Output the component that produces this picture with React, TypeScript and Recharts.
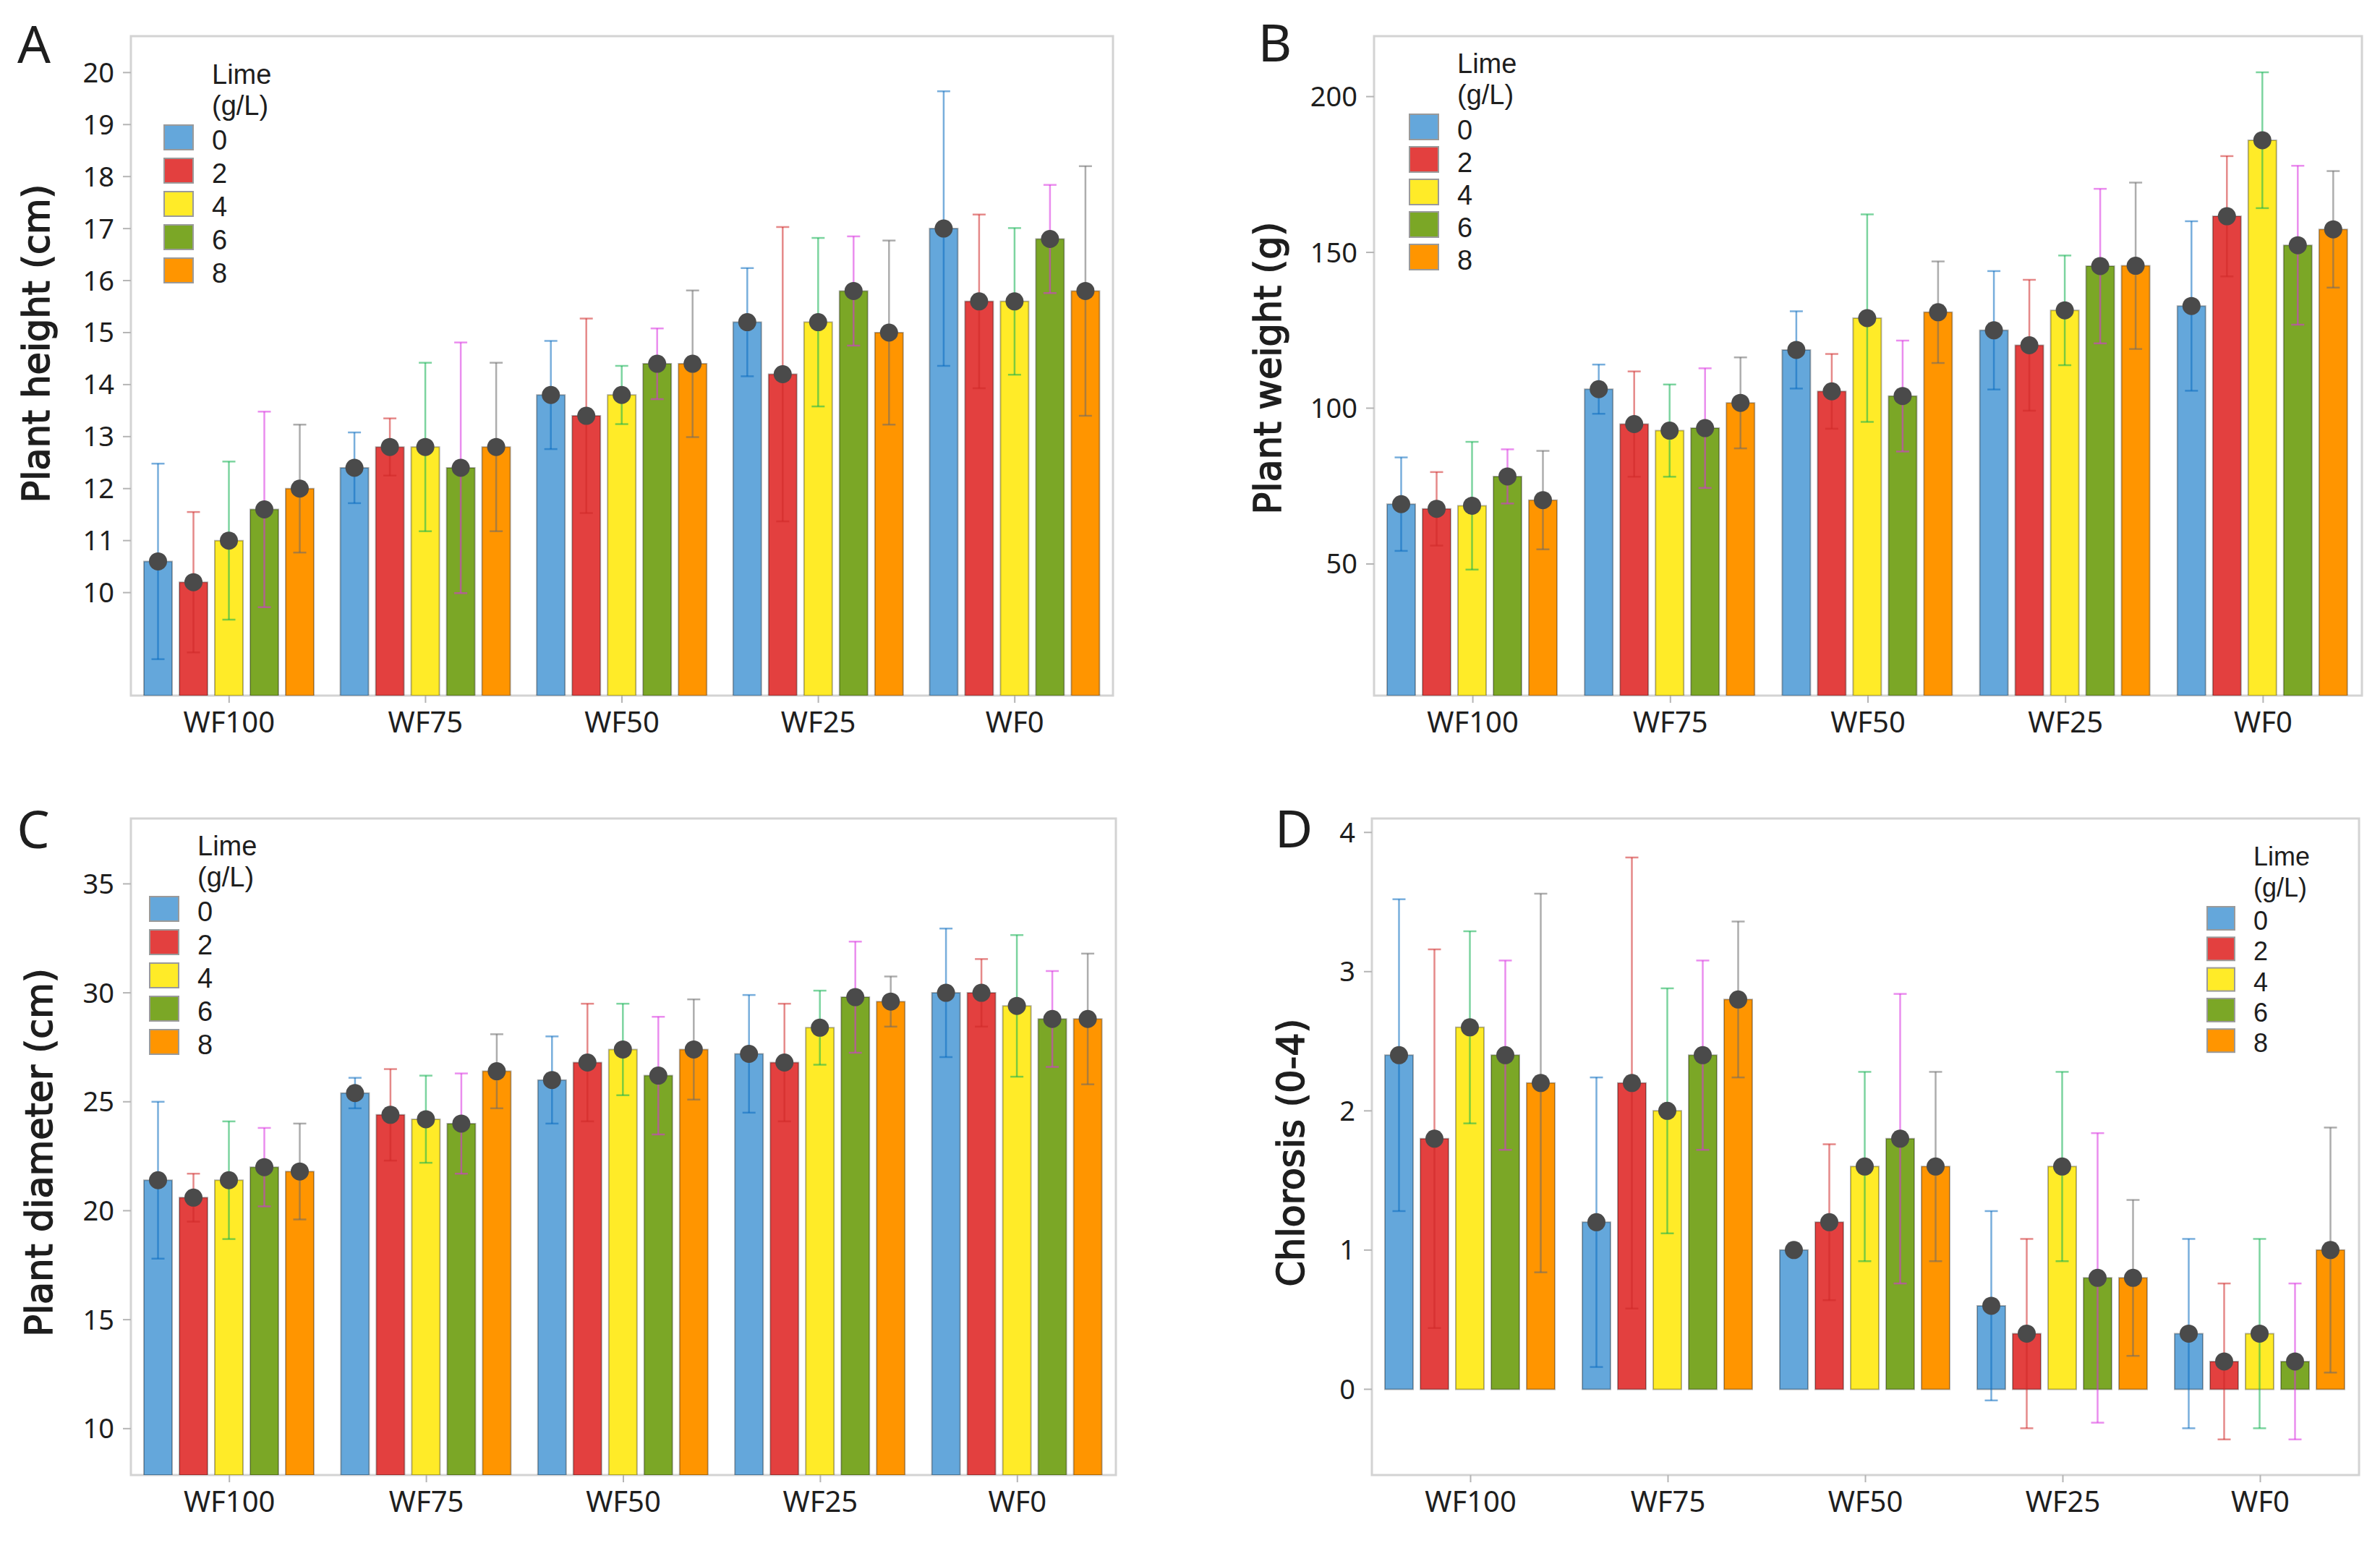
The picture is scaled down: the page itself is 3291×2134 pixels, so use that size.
import { BarChart, Bar, XAxis, YAxis, ErrorBar, LabelList } from "recharts";

const PAGE_W = 3291;
const PAGE_H = 2134;

const categories = ["WF100", "WF75", "WF50", "WF25", "WF0"];
const limeLevels = ["0", "2", "4", "6", "8"];
const barColors = ["#64a7db", "#e3403f", "#ffeb28", "#7ba726", "#ff9500"];
const errColors = ["#0a6cc0", "#d02828", "#10b050", "#d830e0", "#6a6a6a"];

// rows = water factor, columns = lime level (0, 2, 4, 6, 8 g/L)
const heightMean = [
  [10.6, 10.2, 11.0, 11.6, 12.0],
  [12.4, 12.8, 12.8, 12.4, 12.8],
  [13.8, 13.4, 13.8, 14.4, 14.4],
  [15.2, 14.2, 15.2, 15.8, 15.0],
  [17.0, 15.6, 15.6, 16.8, 15.8],
];
const heightErr = [
  [1.88, 1.35, 1.52, 1.88, 1.23],
  [0.68, 0.55, 1.62, 2.41, 1.62],
  [1.04, 1.87, 0.56, 0.68, 1.41],
  [1.04, 2.83, 1.62, 1.05, 1.77],
  [2.64, 1.67, 1.41, 1.04, 2.4],
];
const heightTicks = [10, 11, 12, 13, 14, 15, 16, 17, 18, 19, 20];

const weightMean = [
  [69.2, 67.7, 68.7, 78.1, 70.5],
  [106.1, 94.9, 92.8, 93.6, 101.7],
  [118.7, 105.4, 128.9, 103.9, 130.8],
  [125.0, 120.2, 131.4, 145.6, 145.7],
  [132.8, 161.6, 186.0, 152.3, 157.4],
];
const weightErr = [
  [15.0, 11.8, 20.5, 8.7, 15.8],
  [7.9, 16.9, 14.8, 19.2, 14.6],
  [12.4, 12.0, 33.3, 17.8, 16.3],
  [19.0, 21.0, 17.6, 24.8, 26.7],
  [27.2, 19.3, 21.8, 25.5, 18.7],
];
const weightTicks = [50, 100, 150, 200];

const diameterMean = [
  [21.4, 20.6, 21.4, 22.0, 21.8],
  [25.4, 24.4, 24.2, 24.0, 26.4],
  [26.0, 26.8, 27.4, 26.2, 27.4],
  [27.2, 26.8, 28.4, 29.8, 29.6],
  [30.0, 30.0, 29.4, 28.8, 28.8],
];
const diameterErr = [
  [3.6, 1.1, 2.7, 1.8, 2.2],
  [0.7, 2.1, 2.0, 2.3, 1.7],
  [2.0, 2.7, 2.1, 2.7, 2.3],
  [2.7, 2.7, 1.7, 2.55, 1.15],
  [2.95, 1.55, 3.25, 2.2, 3.0],
];
const diameterTicks = [10, 15, 20, 25, 30, 35];

const chlorosisMean = [
  [2.4, 1.8, 2.6, 2.4, 2.2],
  [1.2, 2.2, 2.0, 2.4, 2.8],
  [1.0, 1.2, 1.6, 1.8, 1.6],
  [0.6, 0.4, 1.6, 0.8, 0.8],
  [0.4, 0.2, 0.4, 0.2, 1.0],
];
const chlorosisErr = [
  [1.12, 1.36, 0.69, 0.68, 1.36],
  [1.04, 1.62, 0.88, 0.68, 0.56],
  [0, 0.56, 0.68, 1.04, 0.68],
  [0.68, 0.68, 0.68, 1.04, 0.56],
  [0.68, 0.56, 0.68, 0.56, 0.88],
];
const chlorosisTicks = [0, 1, 2, 3, 4];

const Y_W = 120;
const X_H = 70;
const TXT = "#1e1e1e";

type Box = { x0: number; y0: number; x1: number; y1: number };

function buildRows(means: number[][], errs: number[][]) {
  return categories.map((name, i) => {
    const row: Record<string, string | number> = { name };
    limeLevels.forEach((l, j) => {
      row["m" + l] = means[i][j];
      row["e" + l] = errs[i][j];
    });
    return row;
  });
}

const renderDot = (p: any) => {
  const vb = p.viewBox ?? p;
  const x = vb.x as number;
  const w = vb.width as number;
  const y = vb.height < 0 ? vb.y + vb.height : vb.y;
  return <circle cx={x + w / 2} cy={y} r={12.5} fill="#4a4a4a" />;
};

function Panel({ box, domain, ticks, means, errs }: {
  box: Box; domain: [number, number]; ticks: number[]; means: number[][]; errs: number[][];
}) {
  const rows = buildRows(means, errs);
  return (
    <div style={{ position: "absolute", left: 0, top: 0 }}>
      <BarChart
        width={PAGE_W}
        height={PAGE_H}
        data={rows}
        margin={{ top: box.y0, left: box.x0 - Y_W, right: PAGE_W - box.x1, bottom: PAGE_H - box.y1 - X_H }}
        barCategoryGap={18}
        barGap={10}
      >
        <XAxis
          dataKey="name"
          height={X_H}
          interval={0}
          axisLine={false}
          tickSize={10}
          tickMargin={13}
          tickLine={{ stroke: "#b5b5b5", strokeWidth: 2 }}
          tick={{ fontSize: 40, fill: TXT, fontFamily: "Noto Sans" }}
        />
        <YAxis
          type="number"
          width={Y_W}
          domain={domain}
          allowDataOverflow
          ticks={ticks}
          axisLine={false}
          tickSize={11}
          tickMargin={12}
          tickLine={{ stroke: "#b5b5b5", strokeWidth: 2 }}
          tick={{ fontSize: 38, fill: TXT, fontFamily: "Noto Sans" }}
        />
        {limeLevels.map((l, j) => (
          <Bar
            key={l}
            dataKey={"m" + l}
            fill={barColors[j]}
            stroke="rgba(0,0,0,0.3)"
            strokeWidth={2}
            isAnimationActive={false}
          >
            <ErrorBar
              dataKey={"e" + l}
              width={9}
              stroke={errColors[j]}
              strokeWidth={2.5}
              strokeOpacity={0.55}
              isAnimationActive={false}
            />
            <LabelList dataKey={"m" + l} content={renderDot} />
          </Bar>
        ))}
      </BarChart>
    </div>
  );
}

function LegendBlock({ x, y, sq, h, step, fs }: { x: number; y: number; sq: number; h: number; step: number; fs: number }) {
  // x = left of the squares, y = top of first square
  const tx = x + sq + 26;
  return (
    <g>
      {limeLevels.map((l, j) => (
        <rect key={l} x={x} y={y + j * step} width={sq} height={h} fill={barColors[j]} stroke="#9a9a9a" strokeWidth={2} />
      ))}
      <text fontFamily="Liberation Sans" fontSize={fs} fill={TXT}>
        <tspan x={tx} y={y - 57}>Lime</tspan>
        <tspan x={tx} y={y - 14}>(g/L)</tspan>
        {limeLevels.map((l, j) => (
          <tspan key={l} x={tx} y={y + j * step + h}>{l}</tspan>
        ))}
      </text>
    </g>
  );
}

const boxA: Box = { x0: 181, y0: 50, x1: 1539, y1: 962 };
const boxB: Box = { x0: 1900, y0: 50, x1: 3266, y1: 962 };
const boxC: Box = { x0: 181, y0: 1132, x1: 1543, y1: 2040 };
const boxD: Box = { x0: 1897, y0: 1132, x1: 3262, y1: 2040 };

function Frame({ b }: { b: Box }) {
  return <rect x={b.x0} y={b.y0} width={b.x1 - b.x0} height={b.y1 - b.y0} fill="none" stroke="#d3d3d3" strokeWidth={3} />;
}

function YTitle({ x, y, text }: { x: number; y: number; text: string }) {
  return (
    <text
      x={x}
      y={y}
      transform={`rotate(-90 ${x} ${y})`}
      textAnchor="middle"
      dominantBaseline="central"
      fontFamily="DejaVu Sans"
      fontSize={51}
      fill={TXT}
      stroke={TXT}
      strokeWidth={1.5}
    >
      {text}
    </text>
  );
}

export default function App() {
  return (
    <div style={{ position: "absolute", left: 0, top: 0, width: PAGE_W, height: PAGE_H, background: "#fff", fontFamily: "Noto Sans" }}>
      <svg width={PAGE_W} height={PAGE_H} style={{ position: "absolute", left: 0, top: 0 }}>
        <Frame b={boxA} />
        <Frame b={boxB} />
        <Frame b={boxC} />
        <Frame b={boxD} />
        <g fontFamily="Noto Sans" fontSize={72} fill={TXT} textAnchor="middle">
          <text x={47} y={87}>A</text>
          <text x={1763} y={85}>B</text>
          <text x={46} y={1173}>C</text>
          <text x={1789} y={1172}>D</text>
        </g>
        <YTitle x={50} y={475} text="Plant height (cm)" />
        <YTitle x={1753} y={509} text="Plant weight (g)" />
        <YTitle x={54} y={1594} text="Plant diameter (cm)" />
        <YTitle x={1785} y={1594} text="Chlorosis (0-4)" />
        <LegendBlock x={227} y={173} sq={40} h={34} step={46} fs={38} />
        <LegendBlock x={1949} y={158} sq={40} h={35} step={45} fs={38} />
        <LegendBlock x={207} y={1240} sq={40} h={34} step={46} fs={38} />
        <LegendBlock x={3052} y={1254} sq={38} h={32} step={42.3} fs={36} />
      </svg>
      <Panel box={boxA} domain={[8.02, 20.7]} ticks={heightTicks} means={heightMean} errs={heightErr} />
      <Panel box={boxB} domain={[7.76, 219.4]} ticks={weightTicks} means={weightMean} errs={weightErr} />
      <Panel box={boxC} domain={[7.87, 38.0]} ticks={diameterTicks} means={diameterMean} errs={diameterErr} />
      <Panel box={boxD} domain={[-0.616, 4.1]} ticks={chlorosisTicks} means={chlorosisMean} errs={chlorosisErr} />
    </div>
  );
}
